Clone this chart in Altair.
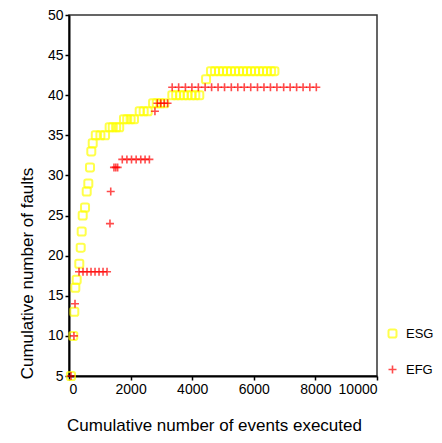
import altair as alt
import pandas as pd

# ESG series (x = cumulative events, y = cumulative faults)
esg_x = [65, 140, 172, 205, 250, 334, 380, 412, 445, 520, 575, 627, 682, 724, 770,
         870, 1020, 1170,
         1320, 1420, 1530, 1630,
         1785, 1890, 2000, 2110,
         2295, 2425, 2555,
         2730, 2850, 2970, 3095,
         3355, 3480, 3600, 3730, 3850, 3980, 4100, 4230,
         4450,
         4610, 4740, 4870, 5000, 5130, 5260, 5390, 5520, 5650, 5780, 5910, 6040,
         6170, 6300, 6430, 6560, 6670]
esg_y = [5, 10, 13, 16, 17, 19, 21, 23, 25, 26, 28, 29, 31, 33, 34,
         35, 35, 35,
         36, 36, 36, 36,
         37, 37, 37, 37,
         38, 38, 38,
         39, 39, 39, 39,
         40, 40, 40, 40, 40, 40, 40, 40,
         42,
         43, 43, 43, 43, 43, 43, 43, 43, 43, 43, 43, 43,
         43, 43, 43, 43, 43]

# EFG series
efg_x = [65, 160, 195,
         325, 455, 585, 715, 845, 975, 1105, 1235,
         1330, 1355,
         1460, 1520, 1580,
         1730, 1880, 2030, 2180, 2330, 2470, 2610,
         2790,
         2870, 2980, 3090, 3200,
         3350, 3560, 3780, 3990, 4200, 4420, 4630, 4840, 5050, 5270, 5480, 5690,
         5900, 6120, 6330, 6540, 6750, 6970, 7180, 7390, 7600, 7820, 8030]
efg_y = [5, 10, 14,
         18, 18, 18, 18, 18, 18, 18, 18,
         24, 28,
         31, 31, 31,
         32, 32, 32, 32, 32, 32, 32,
         38,
         39, 39, 39, 39,
         41, 41, 41, 41, 41, 41, 41, 41, 41, 41, 41, 41,
         41, 41, 41, 41, 41, 41, 41, 41, 41, 41, 41]

series_names = ["ESG", "EFG"]
series_colors = ["#ffff00", "#ff0000"]
x_ticks = [0, 2000, 4000, 6000, 8000, 10000]
y_ticks = [5, 10, 15, 20, 25, 30, 35, 40, 45, 50]

rounded_square = ("M -0.55 -1 L 0.55 -1 Q 1 -1 1 -0.55 L 1 0.55 Q 1 1 0.55 1 "
                  "L -0.55 1 Q -1 1 -1 0.55 L -1 -0.55 Q -1 -1 -0.55 -1 Z")
plus = "M -1 0 L 1 0 M 0 -1 L 0 1"

df = pd.concat([
    pd.DataFrame({"x": esg_x, "y": esg_y, "series": "ESG"}),
    pd.DataFrame({"x": efg_x, "y": efg_y, "series": "EFG"}),
], ignore_index=True)

FONT = "Liberation Sans"

chart = alt.Chart(df).mark_point(filled=False, size=64, clip=False).encode(
    x=alt.X("x:Q", scale=alt.Scale(domain=[0, 10000], nice=False),
            axis=alt.Axis(title="Cumulative number of events executed", values=x_ticks,
                          format="d", titleX=145, titleY=54, titleBaseline="alphabetic",
                          titleAlign="center")),
    y=alt.Y("y:Q", scale=alt.Scale(domain=[5, 50], nice=False, zero=False),
            axis=alt.Axis(title="Cumulative number of faults", values=y_ticks,
                          titleX=-42, titleY=258, titleAngle=270, titleAlign="center",
                          titleBaseline="middle")),
    color=alt.Color("series:N", scale=alt.Scale(domain=series_names, range=series_colors),
                    legend=alt.Legend(title=None, orient="none", legendX=317, legendY=312,
                                      padding=0, rowPadding=20, symbolSize=64,
                                      symbolStrokeWidth=1.8, labelFontSize=13,
                                      labelFont=FONT, labelOffset=7, labelColor="#000")),
    shape=alt.Shape("series:N", scale=alt.Scale(domain=series_names,
                                                range=[rounded_square, plus])),
    strokeWidth=alt.StrokeWidth("series:N", scale=alt.Scale(domain=series_names, range=[2, 1.6]),
                                legend=None),
    order=alt.Order("ord:Q"),
).transform_calculate(
    ord="datum.series == 'ESG' ? 0 : 1"
).properties(
    width=308, height=361,
    autosize=alt.AutoSizeParams(type="none"),
    padding={"left": 61, "top": 7, "right": 57, "bottom": 58},
).configure_view(
    stroke="#333", strokeWidth=1.5
).configure_axis(
    grid=False, domainColor="#000", domainWidth=2, tickColor="#000", tickWidth=1.5,
    tickSize=4, labelPadding=2, labelFont=FONT, labelFontSize=14, labelColor="#000",
    titleFont=FONT, titleFontSize=17, titleFontWeight="normal", titleColor="#000"
)

chart.save("out.html", embed_options={"renderer": "svg", "actions": False})
